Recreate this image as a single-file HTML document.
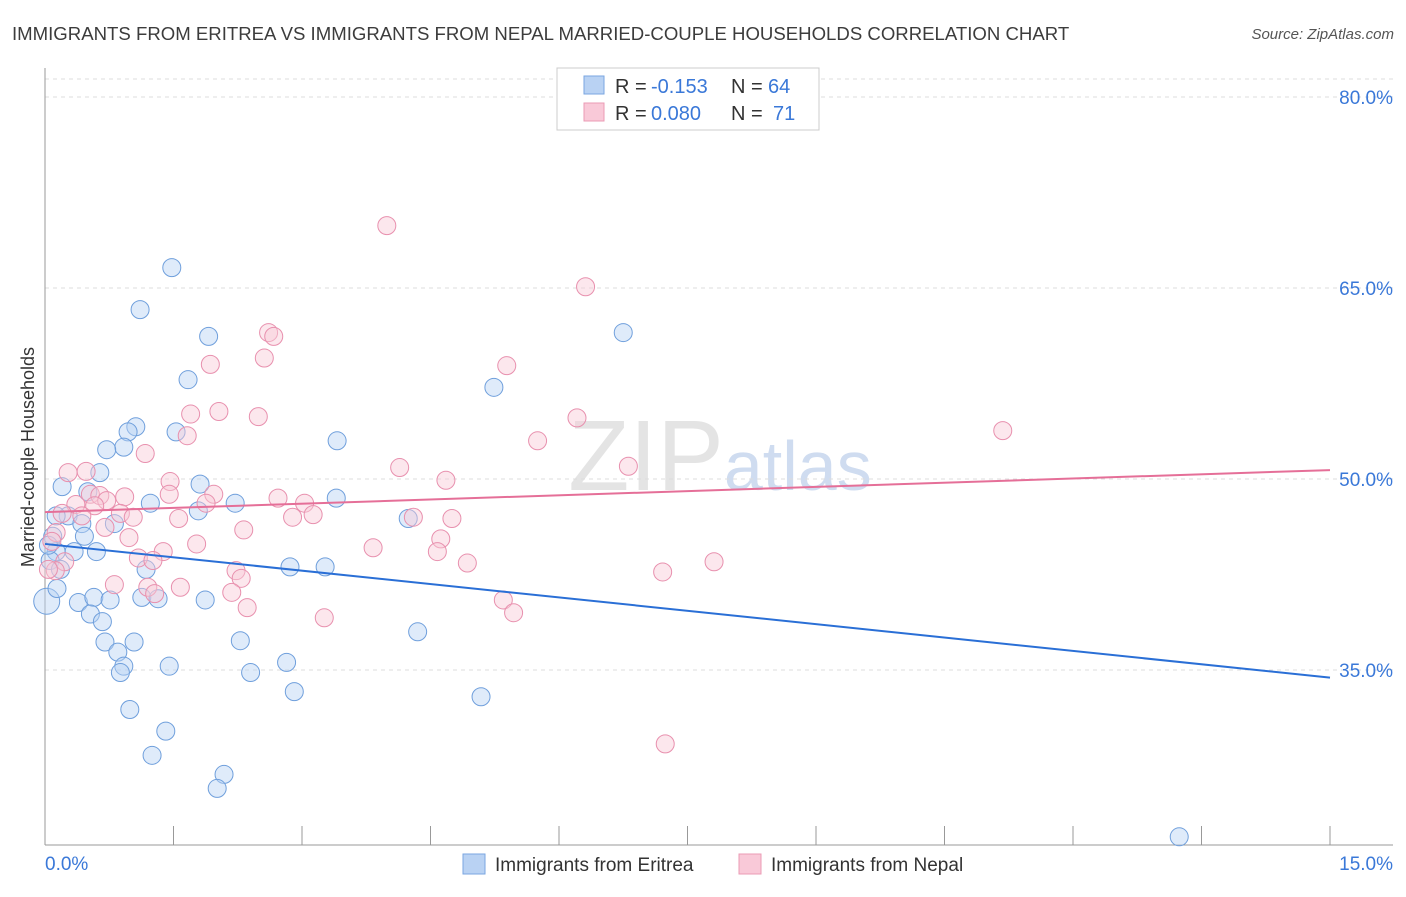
<!DOCTYPE html>
<html><head><meta charset="utf-8"><style>
body{margin:0;background:#fff;width:1406px;height:892px;overflow:hidden;font-family:"Liberation Sans",sans-serif}
svg text{font-family:"Liberation Sans",sans-serif}
</style></head><body>
<svg id="chart" width="1406" height="892" xmlns="http://www.w3.org/2000/svg">
<text x="12" y="40" font-size="18.6" fill="#3c3c3c">IMMIGRANTS FROM ERITREA VS IMMIGRANTS FROM NEPAL MARRIED-COUPLE HOUSEHOLDS CORRELATION CHART</text>
<text x="1394" y="39" font-size="15" fill="#555" text-anchor="end" font-style="italic">Source: ZipAtlas.com</text>
<text x="720" y="490" font-size="100" text-anchor="middle" fill="#e4e4e4" font-family="Liberation Serif">ZIP<tspan fill="#cfdcf0" font-family="Liberation Sans" font-size="70">atlas</tspan></text>
<g id="grid"></g><g id="axes"></g><g id="marks"></g>
<text transform="translate(34,457) rotate(-90)" font-size="18" fill="#333" text-anchor="middle">Married-couple Households</text>
<g>
<rect x="557" y="68" width="262" height="62" fill="#fff" stroke="#ccc"/>
<rect x="584" y="76" width="20" height="18" fill="#b9d2f3" stroke="#7aa6e0"/>
<rect x="584" y="103" width="20" height="18" fill="#f9c9d8" stroke="#eb9bb5"/>
<text x="615" y="93" font-size="20" fill="#333">R =</text>
<text x="651" y="93" font-size="20" fill="#3a78d8">-0.153</text>
<text x="731" y="93" font-size="20" fill="#333">N =</text>
<text x="768" y="93" font-size="20" fill="#3a78d8">64</text>
<text x="615" y="120" font-size="20" fill="#333">R =</text>
<text x="651" y="120" font-size="20" fill="#3a78d8">0.080</text>
<text x="731" y="120" font-size="20" fill="#333">N =</text>
<text x="773" y="120" font-size="20" fill="#3a78d8">71</text>
</g>
<g>
<rect x="463" y="854" width="22" height="20" fill="#b9d2f3" stroke="#7aa6e0"/>
<text x="495" y="871" font-size="19" fill="#333">Immigrants from Eritrea</text>
<rect x="739" y="854" width="22" height="20" fill="#f9c9d8" stroke="#eb9bb5"/>
<text x="771" y="871" font-size="19" fill="#333">Immigrants from Nepal</text>
</g>
</svg>
<script>
const yTicks=[35,50,65,80];
const xTickLabels=["0.0%","15.0%"];
const eritreaX=[1.48,1.11,1.91,1.67,1.06,0.97,0.92,0.72,1.53,3.41,5.24,6.75,0.20,0.64,0.50,1.23,1.81,2.22,1.79,3.40,4.24,0.27,0.43,0.81,0.46,0.09,0.13,0.34,0.60,0.06,0.18,2.86,3.27,1.18,0.02,0.39,0.57,0.76,1.13,1.32,1.87,0.53,0.67,0.70,1.04,2.28,0.85,0.92,1.45,0.88,2.40,2.82,2.91,4.35,5.09,0.99,1.41,1.25,2.09,2.01,13.24,0.14,0.13,0.04];
const eritreaY=[66.6,63.3,61.2,57.8,54.1,53.7,52.5,52.3,53.7,53.0,57.2,61.5,49.4,50.5,49.0,48.1,49.6,48.1,47.5,48.5,46.9,47.1,46.5,46.5,45.5,45.5,44.3,44.3,44.3,43.6,42.9,43.1,43.1,42.9,40.4,40.3,40.7,40.5,40.7,40.6,40.5,39.4,38.8,37.2,37.2,37.3,36.4,35.3,35.3,34.8,34.8,35.6,33.3,38.0,32.9,31.9,30.2,28.3,26.8,25.7,21.9,41.4,47.1,44.8];
const nepalX=[3.99,6.31,2.61,2.67,1.93,2.56,5.39,1.70,2.03,2.49,1.66,6.21,5.75,11.18,1.17,4.14,0.27,0.48,4.68,6.81,1.46,1.45,1.97,0.53,0.64,0.93,0.72,2.72,3.03,1.88,0.36,0.58,0.20,0.43,0.88,1.03,1.56,2.89,3.13,4.30,4.75,0.70,2.32,0.13,0.98,4.62,1.77,3.83,4.58,1.38,1.09,1.26,0.23,4.93,2.23,7.81,7.21,2.29,1.58,0.81,2.18,1.20,1.28,2.36,5.35,5.47,3.26,7.24,0.08,0.12,0.04];
const nepalY=[69.9,65.1,61.5,61.2,59.0,59.5,58.9,55.1,55.3,54.9,53.4,54.8,53.0,53.8,52.0,50.9,50.5,50.6,49.9,51.0,49.8,48.8,48.8,48.8,48.7,48.6,48.3,48.5,48.1,48.1,48.0,47.9,47.3,47.1,47.3,47.0,46.9,47.0,47.2,47.0,46.9,46.2,46.0,45.8,45.4,45.3,44.9,44.6,44.3,44.3,43.8,43.6,43.5,43.4,42.8,43.5,42.7,42.2,41.5,41.7,41.1,41.5,41.0,39.9,40.5,39.5,39.1,29.2,45.1,42.8,42.9];
const trendEritrea=[44.9,34.4];
const trendNepal=[47.4,50.7];
const NS="http://www.w3.org/2000/svg";
const xs=v=>45+v*(1330-45)/15;
const ys=v=>97+(80-v)*(670-97)/45;
function mk(tag,attrs,parent){const e=document.createElementNS(NS,tag);for(const k in attrs)e.setAttribute(k,attrs[k]);parent.appendChild(e);return e;}
const grid=document.getElementById('grid'),axes=document.getElementById('axes'),marks=document.getElementById('marks');
const tg=mk('line',{x1:45,x2:1393,y1:79,y2:79,stroke:'#ddd','stroke-dasharray':'4,4'},grid);


yTicks.forEach(t=>{
 const l=mk('line',{x1:45,x2:1393,y1:ys(t),y2:ys(t),stroke:'#ddd','stroke-dasharray':'4,4'},grid);
 
 
 const tx=mk('text',{x:1393,y:ys(t)+7,'font-size':19,fill:'#3a78d8','text-anchor':'end'},axes);
 tx.textContent=t.toFixed(1)+'%';
 
 
});
const ya=mk('line',{x1:45,x2:45,y1:68,y2:845,stroke:'#999'},axes);


const xa=mk('line',{x1:45,x2:1393,y1:845,y2:845,stroke:'#999'},axes);


for(let i=0;i<=10;i++){
 const tk=mk('line',{x1:xs(i*1.5),x2:xs(i*1.5),y1:826,y2:845,stroke:'#999'},axes);
 
 
}
[[0,45,'start'],[1,1393,'end']].forEach(([i,x,a])=>{
 const t=mk('text',{x:x,y:870,'font-size':19,fill:'#3a78d8','text-anchor':a},axes);
 t.textContent=xTickLabels[i];
 
 
});
function pts(X,Y,fill,stroke,name){
 X.forEach((x,i)=>{
  const r=(x<0.05&&Y[i]<41)?13:9;
  const c=mk('circle',{cx:xs(x),cy:ys(Y[i]),r:r,fill:fill,'fill-opacity':0.45,stroke:stroke,'stroke-width':1},marks);
  
  
 });
}
pts(eritreaX,eritreaY,'#b9d2f3','#6f9fdc','eritrea-point');
pts(nepalX,nepalY,'#f9c9d8','#e890ae','nepal-point');
const l1=mk('line',{x1:xs(0),y1:ys(trendEritrea[0]),x2:xs(15),y2:ys(trendEritrea[1]),stroke:'#2a6fd6','stroke-width':2},marks);


const l2=mk('line',{x1:xs(0),y1:ys(trendNepal[0]),x2:xs(15),y2:ys(trendNepal[1]),stroke:'#e56f98','stroke-width':2},marks);


</script>
</body></html>
